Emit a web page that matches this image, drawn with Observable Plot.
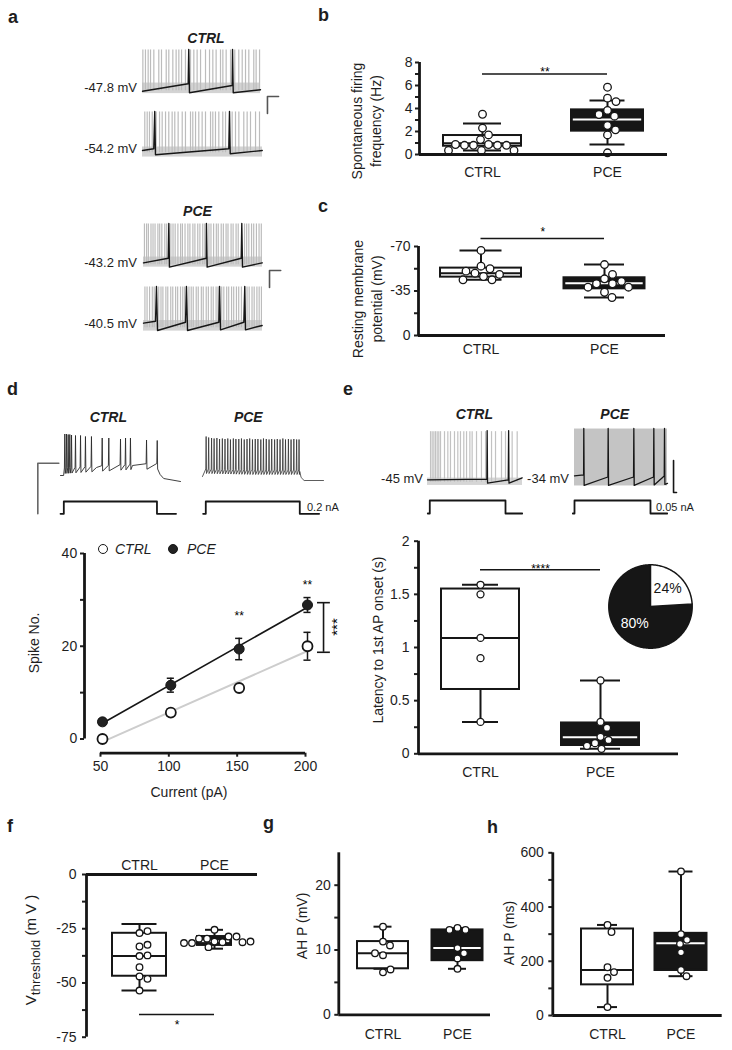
<!DOCTYPE html>
<html>
<head>
<meta charset="utf-8">
<script src="https://cdn.jsdelivr.net/npm/d3@7"></script>
<script src="https://cdn.jsdelivr.net/npm/@observablehq/plot@0.6"></script>
<style>
  body { margin: 0; background: #fff; }
  #fig { position: relative; width: 732px; height: 1050px; overflow: hidden; background: #fff;
         font-family: "Liberation Sans", Arial, Helvetica, sans-serif; color: #1e1e1e; }
  .abs { position: absolute; white-space: nowrap; line-height: 1; }
  .rot { position: absolute; white-space: nowrap; text-align: center; transform: translate(-50%, -50%) rotate(-90deg); }
  .plt g[aria-label="y-axis tick"], .plt g[aria-label="x-axis tick"] { stroke-width: 2px; }
  .plt .tick line { stroke-width: 2px; }
  .plt .domain { display: none; }
</style>
</head>
<body>
<div id="fig"></div>
<script>
// ======================= DATA =======================
const GROUPS = ["CTRL", "PCE"];

// --- b: spontaneous firing frequency (Hz)
const firingCtrl = [3.5, 2.3, 1.7, 1.3, 0.87, 0.8, 0.8, 0.8, 0.8, 0.87, 0.35, 0.35, 0.35];
const firingPce  = [5.85, 4.9, 4.6, 3.83, 3.33, 3.48, 2.52, 2.15, 1.7, 0.15];
const firingBoxCtrl = {lo: 0.35, q1: 0.72, med: 0.98, q3: 1.65, hi: 2.7};
const firingBoxPce  = {lo: 0.87, q1: 2.03, med: 3.04, q3: 3.88, hi: 4.7};
const firingSig = {y: 7, label: "**"};

// --- c: resting membrane potential (mV)
const rmpCtrl = [-66.9, -54.5, -52.5, -49, -50.6, -46.4, -43.8, -43.8, -48];
const rmpPce  = [-55.8, -44.6, -48, -40.7, -40.7, -42.5, -38, -38, -34, -29.9];
const rmpBoxCtrl = {lo: -43.8, q1: -45.9, med: -49, q3: -53, hi: -66.9};
const rmpBoxPce  = {lo: -29.9, q1: -36.7, med: -41.1, q3: -45.4, hi: -55.8};
const rmpSig = {y: -76.3, label: "*"};

// --- d: spike number vs injected current
const currents   = [50, 100, 150, 200];
const spikesCtrl = [0, 5.7, 11, 20];
const semCtrl    = [0.4, 0.8, 0.6, 3.0];
const spikesPce  = [3.7, 11.6, 19.4, 28.9];
const semPce     = [0.6, 1.5, 2.3, 1.6];
const dStars   = [{x: 150, y: 26.4, label: "**"}, {x: 200, y: 33.1, label: "**"}];
const dBracket = {x: 213.2, y1: 18.7, y2: 29.4, label: "***"};

// --- e: latency to 1st AP onset (s)
const latCtrl = [1.59, 1.5, 1.09, 0.90, 0.30];
const latPce  = [0.69, 0.30, 0.245, 0.16, 0.13, 0.10, 0.075, 0.047];
const latBoxCtrl = {lo: 0.30, q1: 0.605, med: 1.09, q3: 1.55, hi: 1.59};
const latBoxPce  = {lo: 0.047, q1: 0.078, med: 0.156, q3: 0.29, hi: 0.69};
const latSig = {y: 1.731, label: "****"};
const pieValues = [24, 80];
const pieLabels = ["24%", "80%"];

// --- f: V threshold (mV)
const vthCtrl = [-27, -26.1, -33.2, -32.4, -37.6, -37.3, -42.7, -47, -48.1, -53.5];
const vthPce  = [-30.9, -31.2, -29.6, -28.6, -33.5, -29.6, -28.6, -25.5, -31.6, -31.2, -31.6, -30.9];
const vthBoxCtrl = {lo: -53.5, q1: -46.9, med: -37.6, q3: -27.1, hi: -22.8};
const vthBoxPce  = {lo: -34.2, q1: -32.7, med: -30.7, q3: -28.6, hi: -25.5};
const vthSig = {y: -64.5, label: "*"};

// --- g: AHP amplitude (mV)
const ahpCtrl = [13.6, 11.3, 10.7, 9.2, 9.5, 6.55, 7.0];
const ahpPce  = [13.4, 13.1, 13.1, 10.3, 9.5, 8.7, 7.1];
const ahpBoxCtrl = {lo: 7.1, q1: 7.1, med: 9.5, q3: 11.3, hi: 13.6};
const ahpBoxPce  = {lo: 7.1, q1: 8.35, med: 10.3, q3: 13.1, hi: 13.4};

// --- h: AHP duration (ms)
const ahpMsCtrl = [334, 308, 178, 160, 139, 31];
const ahpMsPce  = [531, 300, 279, 264, 233, 168, 145];
const ahpMsBoxCtrl = {lo: 31, q1: 113, med: 168, q3: 319, hi: 334};
const ahpMsBoxPce  = {lo: 145, q1: 166, med: 266, q3: 303, hi: 531};

// --- a: spontaneous traces (t in % of sweep, v in mV)
const aGrayCtrl1 = [0.3,2.5,4.8,6.8,9.6,13.8,16.1,20.1,22.3,25.7,28.5,30.8,33.1,36.4,40.7,43.5,46.3,49.2,53.4,56.8,59.6,62.4,66.1,68.1,70.9,74.6,78.2,81.6,84.5,87.3,90.1,94.3,96.3,99.2];
const aBlackCtrl1 = [[0,-59],[38.7,-43.5],[39.2,28],[39.8,-62.3],[76,-47],[76.3,28],[76.9,-62.3],[100,-56]];
const aGrayCtrl2 = [1.9,3.9,5.8,8.1,11.4,14.2,16.4,19.2,21.9,24.7,26.9,29.7,33.1,35.8,40,41.9,44.2,46.9,49.7,52.5,56.7,58.6,60.8,63.6,66.9,69.2,74.7,77.5,80.3,84.4,87.2,90,94.2,97.5];
const aBlackCtrl2 = [[0,-53.3],[9.4,-49.8],[10.2,28],[10.8,-62.3],[71.9,-49.8],[72.5,28],[73.1,-60.2],[99.8,-53.3]];
const aGrayPce1 = [0.8,2.6,4.1,6.3,8.0,9.7,12.1,13.6,15.4,17.9,19.5,23.0,24.8,26.6,28.9,31.2,32.7,34.9,37.3,39.0,41.5,43.2,45.6,47.4,49.8,51.5,55.0,56.7,58.9,61.2,62.8,65.3,67.1,69.4,71.0,73.6,75.3,77.8,79.6,84.9,86.7,88.5,90.8,92.6,94.9,97.1,99.0];
const aBlackPce1 = [[0,-54],[20.8,-44.4],[21.3,28],[21.8,-63],[52.7,-44.4],[52.9,28],[53.5,-63],[82.1,-44.4],[82.6,28],[83.2,-63],[99.7,-54]];
const aGrayPce2 = [1.2,3.0,5.1,7.4,9.0,12.8,14.7,16.3,18.8,20.4,22.9,24.6,27.0,28.7,31.1,33.0,34.6,38.2,40.1,41.8,44.3,46.0,48.6,50.2,52.7,54.5,56.9,58.6,61.0,62.6,65.7,67.5,69.9,71.6,74.0,75.8,78.1,80.0,82.3,87.0,88.8,91.2,93.0,95.3,97.2,99.1];
const aBlackPce2 = [[0,-48.5],[10.1,-44.4],[10.9,28],[11.8,-63.8],[35.3,-46.5],[36.1,28],[37,-63.8],[63.3,-46.5],[63.9,28],[64.7,-62.3],[84.3,-46.5],[85.1,28],[85.7,-62.3],[99.7,-53.3]];
const aBands = [[-64,-42],[-67,-46],[-63,-42],[-65,-43]];
const aLabels = ["-47.8 mV", "-54.2 mV", "-43.2 mV", "-40.5 mV"];
const scaleBarA = [[115.3,-70],[105.9,-70],[105.9,-105.4]];

// --- d: evoked traces
const dCtrlSpikes = [3.6,5,6.4,7.75,9.2,12.5,16.7,20.8,25.8,34.75,40.25,50,54.2,58.3,71.7,80.6];
const dCtrlPeaks  = [23,23,22,22,21,20,20,18,18,15,15,13,15,15,11,10];
const dCtrlBase   = [[0,-60],[2.6,-60],[3.2,-48],[30,-44],[60,-40],[80.8,-39],[83,-58],[86,-66],[100,-72]];
const dPceSpikes  = [3.0,5.1,7.5,9.6,11.9,14.1,16.4,18.6,20.9,23.1,25.5,27.6,30.0,32.2,34.5,36.8,39.0,41.3,43.6,45.8,48.2,50.4,52.7,55.0,57.2,59.6,61.8,64.1,66.4,68.6,71.0,73.2,75.5,77.8,79.8];
const dPcePeaks   = [18,16,15,14,15,13,14,13,14,12,14,13,13,14,12,13,14,12,13,13,12,14,13,12,13,12,13,12,14,12,13,12,13,12,12];
const dPceBase    = [[0,-62],[2.5,-62],[2.9,-50],[40,-52],[80.4,-52],[81.5,-64],[84,-70],[100,-70]];
const dStepCtrl = [[0,0],[2.75,0],[2.75,1],[80.4,1],[80.4,0],[96.3,0]];
const dStepPce  = [[0.5,0],[2.7,0],[2.7,1],[80.4,1],[80.4,0],[96.4,0]];
const scaleBarD = [[-1.4,-35.4],[-18.9,-35.4],[-18.9,-136.6]];

// --- e: latency traces
const eGrayCtrl  = [3.2,4.9,6.7,8.4,10.2,11.9,13.7,17.9,21.4,24.2,28.4,31.9,34.7,38.2,41.1,44.6,47.0,51.6,56.8,61.1,67.4,71.6,77.9,82.1,89.1,94.4];
const eBlackCtrl = [[0,-67.3],[62.5,-66],[62.8,26],[63.2,-73.7],[85,-67.3],[85.4,26],[85.8,-73.7],[99.7,-63.5]];
const eBlackPce  = [[0,-60],[9.8,-58],[10,30],[10.4,-78],[35.9,-62],[36.2,30],[36.6,-78],[63.5,-62],[63.8,30],[64.2,-78],[85,-62],[85.3,30],[85.7,-77],[96.5,-60],[96.8,30],[97.2,-76],[100,-74]];
const eStepCtrl = [[0.3,0],[2.4,0],[2.4,1],[82.1,1],[82.1,0],[99.7,0]];
const eStepPce  = [[-1.8,0],[0,0],[0,1],[81.7,1],[81.7,0],[99.7,0]];
const scaleBarE = [[106.5,-30.7],[106.5,-91.4],[109.7,-91.4]];

// ======================= HELPERS =======================
const INK = "#161616";
const FONT = '"Liberation Sans", Arial, Helvetica, sans-serif';
const STYLE = {background: "transparent", overflow: "visible", fontFamily: FONT, fontSize: "14px", color: "#1e1e1e"};
const fig = document.getElementById("fig");

function place(el, left, top) {
  el.classList.add("plt");
  el.style.position = "absolute";
  el.style.left = left + "px";
  el.style.top = top + "px";
  fig.appendChild(el);
}
function txt(s, x, yb, o = {}) {
  const d = document.createElement("div");
  const fs = o.size || 14;
  d.className = "abs";
  d.innerHTML = s;
  d.style.fontSize = fs + "px";
  if (o.weight) d.style.fontWeight = o.weight;
  if (o.italic) d.style.fontStyle = "italic";
  if (o.color) d.style.color = o.color;
  d.style.left = x + "px";
  d.style.top = (yb - 0.85 * fs) + "px";
  const tx = o.anchor === "middle" ? "-50%" : o.anchor === "end" ? "-100%" : "0";
  d.style.transform = `translateX(${tx})`;
  fig.appendChild(d);
}
function vtxt(html, cx, cy, o = {}) {
  const d = document.createElement("div");
  d.className = "rot";
  d.innerHTML = html;
  d.style.fontSize = (o.size || 14) + "px";
  d.style.lineHeight = (o.lh || 1.2);
  if (o.color) d.style.color = o.color;
  d.style.left = cx + "px";
  d.style.top = cy + "px";
  fig.appendChild(d);
}
// simple beeswarm in pixel space: horizontal offsets so dots do not overlap
function swarm(ys, dmin) {
  const placed = [], offs = [];
  ys.forEach((y, j) => {
    let best = 0;
    for (let k = 0; k < 400; k++) {
      const cand = (k % 2 ? 1 : -1) * Math.ceil(k / 2) * 0.5;
      if (placed.every(p => Math.hypot(p.x - cand, p.y - y) >= dmin)) { best = cand; break; }
    }
    placed.push({x: best, y});
    offs[j] = best;
  });
  return offs;
}
function boxPanel(o) {
  const L = o.left + o.ml, R = o.left + o.width - o.mr;
  const unit = o.c1 - o.c0;
  const xmin = (L - o.c0) / unit, xmax = 1 + (R - o.c1) / unit;
  const ky = (o.height - o.mt - o.mb) / Math.abs(o.yDomain[1] - o.yDomain[0]);
  const st = o.groups.map((g, i) => ({...g, i, hw: (g.half ?? o.boxHalf) / unit, cw: (g.cap ?? o.capHalf) / unit, ins: 1.8 / unit}));
  const pts = [];
  st.forEach(g => {
    const offs = swarm(g.values.map(v => v * ky), 2 * o.r + 1.4);
    g.values.forEach((v, j) => pts.push({x: g.i + offs[j] / unit, y: v}));
  });
  const light = st.filter(d => !d.dark), dark = st.filter(d => d.dark);
  const marks = [
    Plot.rect(light, {x1: d => d.i - d.hw, x2: d => d.i + d.hw, y1: "q1", y2: "q3", fill: "white", stroke: INK, strokeWidth: 2}),
    Plot.rect(dark, {x1: d => d.i - d.hw, x2: d => d.i + d.hw, y1: "q1", y2: "q3", fill: INK, stroke: INK, strokeWidth: 2}),
    Plot.ruleY(light, {x1: d => d.i - d.hw, x2: d => d.i + d.hw, y: "med", stroke: INK, strokeWidth: 2}),
    Plot.ruleY(dark, {x1: d => d.i - d.hw + d.ins, x2: d => d.i + d.hw - d.ins, y: "med", stroke: "white", strokeWidth: 2}),
    Plot.ruleX(st, {x: "i", y1: "q3", y2: "hi", stroke: INK, strokeWidth: 2}),
    Plot.ruleX(st, {x: "i", y1: "q1", y2: "lo", stroke: INK, strokeWidth: 2}),
    Plot.ruleY(st, {x1: d => d.i - d.cw, x2: d => d.i + d.cw, y: "hi", stroke: INK, strokeWidth: 2}),
    Plot.ruleY(st, {x1: d => d.i - d.cw, x2: d => d.i + d.cw, y: "lo", stroke: INK, strokeWidth: 2}),
    Plot.dot(pts, {x: "x", y: "y", r: o.r, fill: "white", stroke: INK, strokeWidth: 1.3}),
    Plot.ruleX([xmin], {y1: o.yAxis[0], y2: o.yAxis[1], stroke: INK, strokeWidth: 2.8}),
    Plot.ruleY([o.xAxisAt], {x1: xmin, x2: xmax, stroke: INK, strokeWidth: 2.8})
  ];
  if (o.sig) {
    marks.push(
      Plot.ruleY([o.sig], {x1: 0, x2: 1, y: d => d.y, stroke: INK, strokeWidth: 1.5}),
      Plot.text([o.sig], {x: 0.5, y: d => d.y, text: d => d.label, dy: o.sigDy, fontSize: 12, lineAnchor: "middle", fill: "black"})
    );
  }
  const el = Plot.plot({
    width: o.width, height: o.height,
    marginLeft: o.ml, marginRight: o.mr, marginTop: o.mt, marginBottom: o.mb,
    x: {domain: [xmin, xmax], ticks: [0, 1], tickFormat: i => GROUPS[i], tickSize: 0, tickPadding: o.xPad, label: null, axis: o.xAnchor || "bottom"},
    y: {domain: o.yDomain, ticks: o.yTicks, tickFormat: d => o.yLabeled.includes(d) ? String(d) : "", tickSize: 4, tickPadding: o.yPad, label: null},
    marks,
    style: STYLE
  });
  place(el, o.left, o.top);
}
function tracePlot(o) {
  const el = Plot.plot({
    width: o.width, height: o.height, margin: 0,
    x: {domain: o.xDomain || [0, 100], axis: null},
    y: {domain: o.yDomain, axis: null},
    marks: o.marks,
    style: {background: "transparent", overflow: "visible"}
  });
  place(el, o.left, o.top);
}
function waveform(base, spikes, peaks, up, down, w) {
  const f = d3.scaleLinear().domain(base.map(d => d[0])).range(base.map(d => d[1]));
  const pts = base.filter(([t]) => !spikes.some(s => t > s - 2 * w && t < s + 2 * w)).map(d => d.slice());
  spikes.forEach((s, i) => { pts.push([s - w, f(s) + up], [s, peaks[i]], [s + w, f(s) - down]); });
  return pts.sort((a, b) => a[0] - b[0]);
}
const lineXY = (data, opts) => Plot.line(data, {x: d => d[0], y: d => d[1], ...opts});

// ======================= PANEL a =======================
const aBoxes = [
  {left: 142, top: 48, width: 118, gray: aGrayCtrl1, black: aBlackCtrl1, bar: true},
  {left: 142, top: 110, width: 120, gray: aGrayCtrl2, black: aBlackCtrl2},
  {left: 143, top: 222, width: 119, gray: aGrayPce1, black: aBlackPce1, bar: true},
  {left: 143, top: 285, width: 119, gray: aGrayPce2, black: aBlackPce2}
];
const aLabelY = [92, 153, 267, 328];
aBoxes.forEach((b, k) => {
  const marks = [
    Plot.rect([aBands[k]], {x1: 0, x2: 100, y1: d => d[0], y2: d => d[1], fill: "#d3d3d3"}),
    Plot.ruleX(b.gray, {y1: -58, y2: 27, stroke: "#bcbcbc", strokeWidth: 1.2}),
    lineXY(b.black, {stroke: INK, strokeWidth: 1.4})
  ];
  if (b.bar) marks.push(lineXY(scaleBarA, {stroke: "#555", strokeWidth: 1.6}));
  tracePlot({left: b.left, top: b.top, width: b.width, height: 48, yDomain: [-70, 30], marks});
  txt(aLabels[k], 137, aLabelY[k], {size: 13, anchor: "end"});
});

// ======================= PANEL d (traces) =======================
const dWaveCtrl = waveform(dCtrlBase, dCtrlSpikes, dCtrlPeaks, 3, 8, 0.35);
const dWavePce = waveform(dPceBase, dPceSpikes, dPcePeaks, 3, 6, 0.3);
tracePlot({left: 60, top: 430, width: 120, height: 55, yDomain: [-80, 30], marks: [
  lineXY(dWaveCtrl, {stroke: "#2a2a2a", strokeWidth: 0.9}),
  lineXY(scaleBarD, {stroke: "#666", strokeWidth: 1.6})
]});
tracePlot({left: 201.7, top: 430, width: 121, height: 55, yDomain: [-80, 30], marks: [
  lineXY(dWavePce, {stroke: "#333", strokeWidth: 0.8})
]});
tracePlot({left: 60, top: 500.7, width: 120, height: 12.3, yDomain: [0, 1], marks: [lineXY(dStepCtrl, {stroke: INK, strokeWidth: 1.8})]});
tracePlot({left: 201.7, top: 500.7, width: 121, height: 12.3, yDomain: [0, 1], marks: [lineXY(dStepPce, {stroke: INK, strokeWidth: 1.8})]});

// ======================= PANEL e (traces) =======================
tracePlot({left: 427, top: 428, width: 95, height: 58, yDomain: [-80, 30], marks: [
  Plot.rect([[-78, -64]], {x1: 0, x2: 100, y1: d => d[0], y2: d => d[1], fill: "#d6d6d6"}),
  Plot.ruleX(eGrayCtrl, {y1: -72, y2: 24, stroke: "#c2c2c2", strokeWidth: 1.2}),
  lineXY(eBlackCtrl, {stroke: INK, strokeWidth: 1.3})
]});
tracePlot({left: 574, top: 428, width: 93, height: 58, yDomain: [-80, 30], marks: [
  Plot.rect([[-79, 29]], {x1: 0, x2: 100, y1: d => d[0], y2: d => d[1], fill: "#c4c4c4"}),
  lineXY(eBlackPce, {stroke: INK, strokeWidth: 1.3}),
  lineXY(scaleBarE, {stroke: INK, strokeWidth: 1.6})
]});
tracePlot({left: 427, top: 500, width: 95, height: 13, yDomain: [0, 1], marks: [lineXY(eStepCtrl, {stroke: INK, strokeWidth: 1.8})]});
tracePlot({left: 574, top: 500, width: 93, height: 13, yDomain: [0, 1], marks: [lineXY(eStepPce, {stroke: INK, strokeWidth: 1.8})]});

// ======================= PANEL b =======================
boxPanel({left: 330, top: 50, width: 345, height: 140, ml: 89, mt: 12, mr: 8, mb: 36,
  c0: 482, c1: 607, boxHalf: 39, capHalf: 19, r: 3.8, xPad: 13, yPad: 3,
  yDomain: [0, 8], yAxis: [0, 8], xAxisAt: 0, yTicks: [0,1,2,3,4,5,6,7,8], yLabeled: [0,2,4,6,8],
  groups: [{values: firingCtrl, ...firingBoxCtrl}, {values: firingPce, ...firingBoxPce, dark: true, half: 36, cap: 17.5}],
  sig: firingSig, sigDy: -1.5});

// ======================= PANEL c =======================
boxPanel({left: 330, top: 235, width: 345, height: 130, ml: 88, mt: 11, mr: 10, mb: 30,
  c0: 480.5, c1: 604, boxHalf: 40.5, capHalf: 21, r: 3.8, xPad: 8.5, yPad: 4,
  yDomain: [0, -70], yAxis: [0, -70], xAxisAt: 0, yTicks: [0, -17.5, -35, -52.5, -70], yLabeled: [0, -35, -70],
  groups: [{values: rmpCtrl, ...rmpBoxCtrl}, {values: rmpPce, ...rmpBoxPce, dark: true, cap: 20}],
  sig: rmpSig, sigDy: -6});

// ======================= PANEL e (box) =======================
boxPanel({left: 360, top: 525, width: 370, height: 265, ml: 58, mt: 15.7, mr: 52, mb: 36.7,
  c0: 480, c1: 600, boxHalf: 39, capHalf: 18, r: 3.5, xPad: 13.5, yPad: 5,
  yDomain: [0, 2], yAxis: [0, 2], xAxisAt: 0, yTicks: [0,0.25,0.5,0.75,1,1.25,1.5,1.75,2], yLabeled: [0,0.5,1,1.5,2],
  groups: [{values: latCtrl, ...latBoxCtrl}, {values: latPce, ...latBoxPce, dark: true, cap: 20}],
  sig: latSig, sigDy: -1});

// pie
(function () {
  const total = 100;
  const a1 = pieValues[0] / total * 2 * Math.PI;
  const arc = (s, e) => {
    const pts = [[0, 0]];
    const n = Math.max(2, Math.ceil((e - s) / 0.02));
    for (let k = 0; k <= n; k++) { const a = s + (e - s) * k / n; pts.push([Math.sin(a), Math.cos(a)]); }
    pts.push([0, 0]);
    return pts;
  };
  const mid0 = a1 / 2, mid1 = (a1 + 2 * Math.PI) / 2;
  const labels = [
    {x: Math.sin(mid0) * 0.6, y: Math.cos(mid0) * 0.6, t: pieLabels[0], c: INK},
    {x: Math.sin(mid1) * 0.55, y: Math.cos(mid1) * 0.55, t: pieLabels[1], c: "white"}
  ];
  const D = 50 / 41.7;
  const el = Plot.plot({width: 100, height: 100, margin: 0,
    x: {domain: [-D, D], axis: null}, y: {domain: [-D, D], axis: null},
    marks: [
      lineXY(arc(a1, 2 * Math.PI), {fill: INK, stroke: INK, strokeWidth: 1.5}),
      lineXY(arc(0, a1), {fill: "white", stroke: INK, strokeWidth: 1.5}),
      Plot.text(labels, {x: "x", y: "y", text: "t", fill: "c", fontSize: 14, lineAnchor: "middle"})
    ],
    color: {type: "identity"},
    style: STYLE});
  place(el, 600, 555.7);
})();

// ======================= PANEL f =======================
boxPanel({left: 20, top: 850, width: 245, height: 195, ml: 66, mt: 24, mr: 8, mb: 8.3,
  c0: 139, c1: 214, boxHalf: 27, capHalf: 17.5, r: 3.3, xPad: 5, yPad: 6, xAnchor: "top",
  yDomain: [-75, 0], yAxis: [0, -75], xAxisAt: 0, yTicks: [0, -12.5, -25, -37.5, -50, -62.5, -75], yLabeled: [0, -25, -50, -75],
  groups: [{values: vthCtrl, ...vthBoxCtrl}, {values: vthPce, ...vthBoxPce, dark: true, half: 17, cap: 9}],
  sig: vthSig, sigDy: 11});

// ======================= PANEL g =======================
boxPanel({left: 275, top: 840, width: 220, height: 205, ml: 63.3, mt: 12.3, mr: 5, mb: 30.7,
  c0: 382.5, c1: 457, boxHalf: 25.5, capHalf: 9, r: 3.3, xPad: 14, yPad: 4,
  yDomain: [0, 25], yAxis: [0, 25], xAxisAt: 0, yTicks: [0, 5, 10, 15, 20], yLabeled: [0, 10, 20],
  groups: [{values: ahpCtrl, ...ahpBoxCtrl}, {values: ahpPce, ...ahpBoxPce, dark: true}]});

// ======================= PANEL h =======================
boxPanel({left: 495, top: 840, width: 235, height: 205, ml: 57.3, mt: 12.3, mr: 8.3, mb: 30,
  c0: 607, c1: 680.5, boxHalf: 26, capHalf: 10, r: 3.3, xPad: 13.5, yPad: 5,
  yDomain: [0, 600], yAxis: [0, 600], xAxisAt: 0, yTicks: [0, 100, 200, 300, 400, 500, 600], yLabeled: [0, 200, 400, 600],
  groups: [{values: ahpMsCtrl, ...ahpMsBoxCtrl}, {values: ahpMsPce, ...ahpMsBoxPce, dark: true, cap: 12}]});

// ======================= PANEL d (plot) =======================
(function () {
  const ctrl = currents.map((x, i) => ({x, y: spikesCtrl[i], e: semCtrl[i]}));
  const pce = currents.map((x, i) => ({x, y: spikesPce[i], e: semPce[i]}));
  const XMIN = 38.3, YMIN = -3.06, cap = 2.6;
  const err = (data) => [
    Plot.ruleX(data, {x: "x", y1: d => d.y - d.e, y2: d => d.y + d.e, stroke: INK, strokeWidth: 1.5, dx: 2}),
    Plot.ruleY(data, {x1: d => d.x - cap, x2: d => d.x + cap, y: d => d.y + d.e, stroke: INK, strokeWidth: 1.5, dx: 2}),
    Plot.ruleY(data, {x1: d => d.x - cap, x2: d => d.x + cap, y: d => d.y - d.e, stroke: INK, strokeWidth: 1.5, dx: 2})
  ];
  const el = Plot.plot({
    width: 340, height: 270, marginLeft: 64, marginRight: 55, marginTop: 18, marginBottom: 52.3,
    x: {domain: [XMIN, 200], ticks: currents, tickSize: 4, tickPadding: 4, label: null},
    y: {domain: [YMIN, 40], ticks: [0, 10, 20, 30, 40], tickFormat: d => d % 20 === 0 ? String(d) : "", tickSize: 4, tickPadding: 3.3, label: null},
    marks: [
      Plot.ruleX([XMIN], {y1: 0, y2: 40, stroke: INK, strokeWidth: 2.8}),
      Plot.ruleY([YMIN], {x1: 50, x2: 200, stroke: INK, strokeWidth: 2.8}),
      Plot.linearRegressionY(ctrl, {x: "x", y: "y", stroke: "#cdcdcd", strokeWidth: 2, ci: 0, dx: 2}),
      Plot.linearRegressionY(pce, {x: "x", y: "y", stroke: INK, strokeWidth: 1.6, ci: 0, dx: 2}),
      ...err(ctrl), ...err(pce),
      Plot.dot(ctrl, {x: "x", y: "y", r: 5, fill: "white", stroke: INK, strokeWidth: 1.8, dx: 2}),
      Plot.dot(pce, {x: "x", y: "y", r: 5, fill: "#222", stroke: INK, strokeWidth: 1, dx: 2}),
      Plot.text(dStars, {x: "x", y: "y", text: "label", fontSize: 12, dx: 2, lineAnchor: "middle", fill: "black"}),
      Plot.ruleX([dBracket], {x: d => d.x, y1: d => d.y1, y2: d => d.y2, stroke: INK, strokeWidth: 1.6}),
      Plot.ruleY([dBracket.y1, dBracket.y2], {x1: dBracket.x - 4.4, x2: dBracket.x + 5, stroke: INK, strokeWidth: 1.6})
    ],
    style: STYLE
  });
  place(el, 20, 535);
})();

// ======================= TEXT =======================
const L = {size: 18, weight: "bold"};
txt("a", 8, 23, L); txt("b", 318, 21, L); txt("c", 318, 212, L);
txt("d", 7, 395, L); txt("e", 343, 395, L);
txt("f", 7, 832, L); txt("g", 263, 829, L); txt("h", 487, 833, L);

const T = {size: 14, weight: "bold", italic: true, anchor: "middle"};
txt("CTRL", 206, 43, T); txt("PCE", 197.5, 216, T);
txt("CTRL", 108.3, 421.7, T); txt("PCE", 248.3, 421.7, T);
txt("CTRL", 474.3, 419.3, T); txt("PCE", 614.7, 419.3, T);

txt("-45 mV", 423, 483, {size: 13, anchor: "end"});
txt("-34 mV", 569, 483, {size: 13, anchor: "end"});
txt("0.2 nA", 307, 511, {size: 11});
txt("0.05 nA", 656, 511, {size: 11});

vtxt("Spontaneous firing<br>frequency (Hz)", 367, 121, {lh: 1.35});
vtxt("Resting membrane<br>potential (mV)", 368, 299, {lh: 1.35});
vtxt("Spike No.", 34, 642.5);
txt("Current (pA)", 189, 796.7, {anchor: "middle"});
vtxt("Latency to 1st AP onset (s)", 377.5, 640);
vtxt('V<sub style="font-size:90%;vertical-align:-0.25em">threshold</sub> (m V )', 33, 950, {size: 15});
vtxt("AH P (mV)", 302, 926);
vtxt("AH P (ms)", 509, 933);
vtxt(dBracket.label, 336, 627, {size: 15, lh: 1, color: "#000"});

// legend (d)
(function () {
  const mk = (left, fill) => {
    const c = document.createElement("div");
    c.style.cssText = `position:absolute;left:${left}px;top:543.5px;width:10px;height:10px;border-radius:50%;box-sizing:border-box;border:1.6px solid ${INK};background:${fill}`;
    fig.appendChild(c);
  };
  mk(98, "white"); mk(168, "#222");
  txt("CTRL", 115, 554, {italic: true});
  txt("PCE", 187, 554, {italic: true});
})();
</script>
</body>
</html>
